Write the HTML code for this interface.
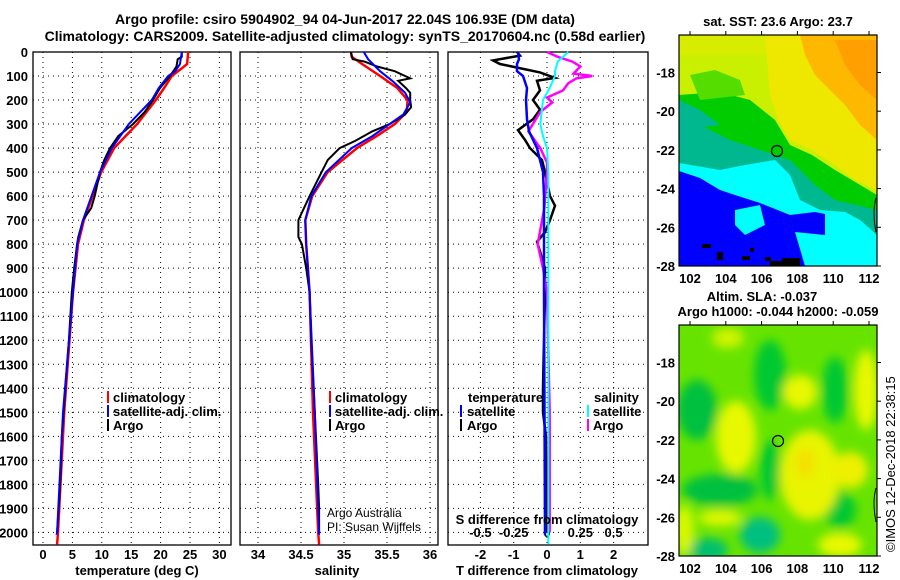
<!DOCTYPE html>
<html><head><meta charset="utf-8"><style>
html,body{margin:0;padding:0;background:#fff;width:900px;height:580px;overflow:hidden;}
svg{display:block;font-family:"Liberation Sans",Arial,sans-serif;}
.b{font-weight:bold;font-size:13px;fill:#000;}
.t{font-weight:bold;font-size:14px;fill:#000;}
</style></head><body>
<svg id="fig" width="900" height="580" viewBox="0 0 900 580" xmlns="http://www.w3.org/2000/svg">
<defs>
<filter id="blur1" x="-20%" y="-20%" width="140%" height="140%"><feGaussianBlur stdDeviation="5"/></filter>
<clipPath id="clipTop"><rect x="679" y="35" width="198" height="231"/></clipPath>
<clipPath id="clipBot"><rect x="679" y="325" width="198" height="231"/></clipPath>
</defs>
<text class="t" x="345" y="24" text-anchor="middle">Argo profile: csiro 5904902_94 04-Jun-2017 22.04S 106.93E (DM data)</text>
<text class="t" x="345" y="41" text-anchor="middle">Climatology: CARS2009. Satellite-adjusted climatology: synTS_20170604.nc (0.58d earlier)</text>

<g id="gP1"></g>
<g id="gP2"></g>
<g id="gP3"></g>
<g id="gY"></g>

<text class="b" x="137" y="575" text-anchor="middle">temperature (deg C)</text>
<text class="b" x="337" y="575" text-anchor="middle">salinity</text>
<text class="b" x="547" y="575" text-anchor="middle">T difference from climatology</text>
<text class="b" x="547" y="524" text-anchor="middle">S difference from climatology</text>

<g>
<rect x="107" y="391" width="2" height="12" fill="#f00"/><text class="b" x="113" y="402">climatology</text>
<rect x="107" y="405" width="2" height="12" fill="#00f"/><text class="b" x="113" y="416">satellite-adj. clim.</text>
<rect x="107" y="419" width="2" height="12" fill="#000"/><text class="b" x="113" y="430">Argo</text>
</g>
<g>
<rect x="329" y="391" width="2" height="12" fill="#f00"/><text class="b" x="335" y="402">climatology</text>
<rect x="329" y="405" width="2" height="12" fill="#00f"/><text class="b" x="335" y="416">satellite-adj. clim.</text>
<rect x="329" y="419" width="2" height="12" fill="#000"/><text class="b" x="335" y="430">Argo</text>
</g>
<text x="327" y="517" font-size="12">Argo Australia</text>
<text x="327" y="531" font-size="12">PI: Susan Wijffels</text>
<g>
<text class="b" x="468" y="402">temperature</text>
<rect x="460" y="405" width="2" height="12" fill="#00f"/><text class="b" x="467" y="416">satellite</text>
<rect x="460" y="419" width="2" height="12" fill="#000"/><text class="b" x="467" y="430">Argo</text>
<text class="b" x="594" y="402">salinity</text>
<rect x="587" y="405" width="2" height="12" fill="#0ff"/><text class="b" x="593" y="416">satellite</text>
<rect x="587" y="419" width="2" height="12" fill="#f0f"/><text class="b" x="593" y="430">Argo</text>
</g>

<text class="b" x="778" y="26" text-anchor="middle">sat. SST: 23.6 Argo: 23.7</text>
<g clip-path="url(#clipTop)">
<rect x="679" y="35" width="198" height="231" fill="#c8f000"/>
<rect x="679" y="35" width="198" height="20" fill="#d8ec00"/>
<polygon fill="#eee800" points="765,35 877,35 877,190 855,180 835,165 812,150 790,140 778,120 770,95"/>
<polygon fill="#ffb800" points="800,35 877,35 877,140 860,125 845,105 830,90 815,75 805,55"/>
<polygon fill="#ffa000" points="835,40 877,40 877,100 860,85 845,65"/>
<polygon fill="#00cc00" points="679,95 720,92 750,100 775,120 790,145 812,155 835,170 877,195 877,266 679,266"/>
<polygon fill="#55dd00" points="690,75 715,70 740,80 745,95 700,100"/>
<polygon fill="#00b890" points="679,120 700,125 730,140 760,150 790,160 815,185 835,200 877,210 877,266 679,266"/>
<polygon fill="#00b890" points="679,100 700,110 720,125 679,130"/>
<polygon fill="#00ffff" points="679,163 720,170 745,165 775,160 790,175 800,200 820,210 845,212 860,220 877,235 877,266 679,266"/>
<polygon fill="#0000ff" points="679,171 700,178 720,190 735,195 760,203 790,215 815,212 825,214 825,266 679,266"/>
<polygon fill="#00ffff" points="735,210 760,205 765,225 745,235 735,225"/>
<polygon fill="#00ffff" points="795,232 825,235 825,266 805,266"/>
<rect x="702" y="244" width="9" height="4" fill="#000"/>
<rect x="717" y="252" width="6" height="8" fill="#000"/>
<rect x="742" y="256" width="8" height="4" fill="#000"/>
<rect x="750" y="248" width="4" height="4" fill="#000"/>
<rect x="765" y="257" width="6" height="4" fill="#000"/>
<rect x="770" y="261" width="30" height="5" fill="#000"/>
<rect x="782" y="258" width="18" height="4" fill="#000"/>
</g>
<rect x="679" y="35" width="198" height="231" fill="none" stroke="#000" stroke-width="1.2"/>
<circle cx="777" cy="151" r="5.5" fill="none" stroke="#000" stroke-width="1.2"/>
<path d="M876,198 Q872,212 876,232" fill="none" stroke="#000" stroke-width="1"/>

<text class="b" x="762" y="301" text-anchor="middle">Altim. SLA: -0.037</text>
<text class="b" x="778" y="316" text-anchor="middle">Argo h1000: -0.044 h2000: -0.059</text>
<g clip-path="url(#clipBot)">
<rect x="679" y="325" width="198" height="231" fill="#66e400"/>
<g filter="url(#blur1)">
<ellipse cx="697" cy="410" rx="20" ry="30" fill="#00c040"/>
<ellipse cx="770" cy="375" rx="16" ry="35" fill="#00c830"/>
<ellipse cx="720" cy="490" rx="38" ry="16" fill="#00c040"/>
<ellipse cx="835" cy="390" rx="13" ry="33" fill="#00c830"/>
<ellipse cx="760" cy="535" rx="20" ry="18" fill="#00c080"/>
<ellipse cx="708" cy="550" rx="20" ry="12" fill="#00c070"/>
<ellipse cx="770" cy="470" rx="10" ry="30" fill="#00c830"/>
<ellipse cx="840" cy="510" rx="16" ry="18" fill="#00c830"/>
<ellipse cx="736" cy="437" rx="20" ry="36" fill="#e8f800"/>
<ellipse cx="800" cy="392" rx="17" ry="17" fill="#e8f800"/>
<ellipse cx="810" cy="475" rx="30" ry="45" fill="#e8f400"/>
<ellipse cx="850" cy="470" rx="18" ry="18" fill="#eef000"/>
<ellipse cx="866" cy="390" rx="12" ry="40" fill="#e8f800"/>
<ellipse cx="728" cy="338" rx="16" ry="10" fill="#d0f400"/>
<ellipse cx="720" cy="518" rx="22" ry="8" fill="#e0f800"/>
<ellipse cx="840" cy="545" rx="22" ry="12" fill="#e8f800"/>
<ellipse cx="684" cy="530" rx="10" ry="25" fill="#d8f800"/>
<ellipse cx="805" cy="463" rx="10" ry="14" fill="#f4e000"/>
</g>
</g>
<rect x="679" y="325" width="198" height="231" fill="none" stroke="#000" stroke-width="1.2"/>
<circle cx="778" cy="441" r="5.5" fill="none" stroke="#000" stroke-width="1.2"/>
<path d="M876,488 Q872,502 876,522" fill="none" stroke="#000" stroke-width="1"/>
<g id="gMap"></g>
<text x="0" y="0" font-size="13" transform="translate(895,552) rotate(-90)">©IMOS 12-Dec-2018 22:38:15</text>
</svg>
<script>
const depthTicks = [0,100,200,300,400,500,600,700,800,900,1000,1100,1200,1300,1400,1500,1600,1700,1800,1900,2000];
const tempTicks = [0,5,10,15,20,25,30];
const salTicks = [34,34.5,35,35.5,36];
const salTickLabels = ['34','34.5','35','35.5','36'];
const tdiffTicks = [-2,-1,0,1,2];
const sdiffTicks = [-0.5,-0.25,0,0.25,0.5];
const sdiffTickLabels = ['-0.5','-0.25','0','0.25','0.5'];
const lonTicks = [102,104,106,108,110,112];
const latTicks = [-18,-20,-22,-24,-26,-28];

const tArgoDepth = [0,20,30,60,100,150,200,250,300,350,400,450,500,600,650,700,770,800,900,1000,1200,1400,1600,1800,2000];
const tArgo      = [23.6,23.6,22.9,22.7,21.6,19.9,18.7,17.3,15.3,12.8,11.4,10.4,9.7,8.8,8.2,6.8,6.0,5.8,5.3,4.9,4.4,3.8,3.2,2.9,2.4];
const tClimDepth = [0,50,70,100,150,200,300,400,500,700,800,1000,1500,2000,2050];
const tClim      = [24.7,24.5,23.5,21.9,20.6,19.2,16.0,12.1,9.9,6.95,5.95,5.1,3.6,2.55,2.4];
const tSatDepth  = [0,50,80,100,150,200,300,400,500,700,800,1000,1500,2000,2010];
const tSat       = [23.6,23.3,22.5,21.3,19.7,18.5,14.6,11.7,9.7,6.8,5.8,5.1,3.4,2.4,2.3];

const sArgoDepth = [0,30,40,60,80,110,120,150,170,200,230,260,300,330,370,400,450,500,600,700,770,800,900,1000,1200,1500,1800,1900,2000];
const sArgo      = [35.08,35.10,35.24,35.38,35.59,35.77,35.63,35.72,35.77,35.77,35.78,35.71,35.53,35.33,35.13,34.95,34.81,34.74,34.60,34.47,34.47,34.51,34.56,34.60,34.62,34.66,34.70,34.71,34.71];
const sClimDepth = [0,20,50,100,150,200,250,300,350,400,500,600,700,800,1000,1500,2000,2050];
const sClim      = [35.08,35.09,35.21,35.42,35.62,35.74,35.73,35.59,35.38,35.15,34.81,34.63,34.55,34.56,34.60,34.64,34.70,34.71];
const sSatDepth  = [0,30,80,120,170,210,260,300,350,400,500,600,700,800,1000,1500,2000,2010];
const sSat       = [35.23,35.28,35.42,35.56,35.71,35.77,35.69,35.53,35.33,35.09,34.79,34.62,34.55,34.56,34.60,34.66,34.71,34.71];

const dtArgoDepth = [0,15,35,50,85,108,120,160,200,240,280,325,366,400,450,500,600,640,700,750,790,830,900,1000,1400,1500,1600,2000];
const dtArgo      = [-0.9,-0.81,-1.62,-1.41,-0.21,0.24,-0.3,-0.21,-0.42,-0.21,-0.42,-0.87,-0.66,-0.51,-0.15,-0.06,0.09,0.24,0.09,-0.06,-0.3,-0.21,-0.06,-0.06,-0.12,-0.12,-0.03,0];
const dtSatDepth  = [0,30,50,80,100,150,200,280,330,400,500,600,1000,2000,2010];
const dtSat       = [-0.87,-0.84,-0.9,-0.9,-0.72,-0.6,-0.63,-0.6,-0.54,-0.3,-0.12,-0.09,-0.09,-0.06,-0.06];
const dsArgoDepth = [0,20,40,60,90,100,110,130,160,190,210,250,330,400,460,500,650,800,900,1000,1500,2000];
const dsArgo      = [0.0,0.08,0.19,0.25,0.2,0.34,0.22,0.16,0.12,0.0,0.04,-0.05,-0.14,-0.05,0.0,0.0,-0.02,-0.07,-0.03,0.0,0.02,0.02];
const dsSatDepth  = [0,40,80,100,150,200,300,350,400,500,1000,2000,2050];
const dsSat       = [0.16,0.08,0.06,0.06,0.02,-0.03,-0.05,-0.03,0.0,0.01,0.01,0.01,0.01];

const Y0 = 52, Y1 = 545;
const yD = d => Y0 + d * 0.2402;
const xT = v => 43 + v * 5.88;
const xS = v => 258 + (v - 34) * 86;
const xDT = v => 547 + v * 33.3;
const xDS = v => 547 + v * 133.2;
const xLon = v => 690 + (v - 102) * 17.9;
const yLatTop = v => 266 - (v + 28) * 19.35;
const yLatBot = v => 556 - (v + 28) * 19.35;

const NS = 'http://www.w3.org/2000/svg';
function mk(tag, attrs, parent, txt) {
  const e = document.createElementNS(NS, tag);
  for (const k in attrs) e.setAttribute(k, attrs[k]);
  if (txt !== undefined) e.textContent = txt;
  parent.appendChild(e);
  return e;
}

function panel(g, x0, x1, xs, xticks, xlabels, nm) {
  for (const d of depthTicks) {
    const l = mk('line', {x1:x0, x2:x1, y1:yD(d), y2:yD(d), stroke:'#000', 'stroke-width':1, 'stroke-dasharray':'1 4'}, g);
    
    
  }
  xticks.forEach((v, i) => {
    const x = xs(v);
    const l = mk('line', {x1:x, x2:x, y1:Y0, y2:Y1, stroke:'#000', 'stroke-width':1, 'stroke-dasharray':'1 4'}, g);
    
    
    if (xlabels) {
      const t = mk('text', {x:x, y:559, 'text-anchor':'middle', class:'b'}, g, xlabels[i]);
      
      
    }
  });
  const r = mk('rect', {x:x0, y:Y0, width:x1 - x0, height:Y1 - Y0, fill:'none', stroke:'#000', 'stroke-width':1.3}, g);
  
  
}

function series(g, depths, vals, xs, color, w, nm) {
  const pts = depths.map((d, i) => xs(vals[i]).toFixed(1) + ',' + yD(d).toFixed(1)).join(' ');
  const p = mk('polyline', {points:pts, fill:'none', stroke:color, 'stroke-width':w, 'stroke-linejoin':'miter'}, g);
  
  
}

const g1 = document.getElementById('gP1');
const g2 = document.getElementById('gP2');
const g3 = document.getElementById('gP3');
const gY = document.getElementById('gY');
const gM = document.getElementById('gMap');

panel(g1, 33, 231, xT, tempTicks, tempTicks.map(String), 'temperature');
panel(g2, 240, 438, xS, salTicks, salTickLabels, 'salinity');
panel(g3, 448, 648, xDT, tdiffTicks, tdiffTicks.map(String), 'difference');
sdiffTicks.forEach((v, i) => {
  const t = mk('text', {x:xDS(v), y:537, 'text-anchor':'middle', class:'b'}, g3, sdiffTickLabels[i]);
  
  
});

for (const d of depthTicks) {
  const t = mk('text', {x:28, y:yD(d) + 5, 'text-anchor':'end', class:'b'}, gY, String(d));
  
  
}

series(g1, tClimDepth, tClim, xT, '#f00', 2.5, 'temperature-climatology-line');
series(g1, tArgoDepth, tArgo, xT, '#000', 2, 'temperature-argo-line');
series(g1, tSatDepth, tSat, xT, '#00f', 2, 'temperature-satellite-line');
series(g2, sClimDepth, sClim, xS, '#f00', 2.5, 'salinity-climatology-line');
series(g2, sArgoDepth, sArgo, xS, '#000', 2, 'salinity-argo-line');
series(g2, sSatDepth, sSat, xS, '#00f', 2, 'salinity-satellite-line');
series(g3, dtArgoDepth, dtArgo, xDT, '#000', 2.5, 't-diff-argo-line');
series(g3, dsArgoDepth, dsArgo, xDS, '#f0f', 2.5, 's-diff-argo-line');
series(g3, dtSatDepth, dtSat, xDT, '#00f', 2.5, 't-diff-satellite-line');
series(g3, dsSatDepth, dsSat, xDS, '#0ff', 2, 's-diff-satellite-line');

for (const lon of lonTicks) {
  const x = xLon(lon);
  const a = mk('text', {x:x, y:283, 'text-anchor':'middle', class:'b'}, gM, String(lon));
  
  
  const b = mk('text', {x:x, y:573, 'text-anchor':'middle', class:'b'}, gM, String(lon));
  
  
  const c = mk('line', {x1:x, x2:x, y1:31, y2:35, stroke:'#000'}, gM);
  
  
  const e = mk('line', {x1:x, x2:x, y1:321, y2:325, stroke:'#000'}, gM);
  
  
}
for (const lat of latTicks) {
  const a = mk('text', {x:675, y:yLatTop(lat) + 5, 'text-anchor':'end', class:'b'}, gM, String(lat));
  
  
  const b = mk('text', {x:675, y:yLatBot(lat) + 5, 'text-anchor':'end', class:'b'}, gM, String(lat));
  
  
  const c = mk('line', {x1:877, x2:881, y1:yLatTop(lat), y2:yLatTop(lat), stroke:'#000'}, gM);
  
  
  const e = mk('line', {x1:877, x2:881, y1:yLatBot(lat), y2:yLatBot(lat), stroke:'#000'}, gM);
  
  
}
</script>
</body></html>
